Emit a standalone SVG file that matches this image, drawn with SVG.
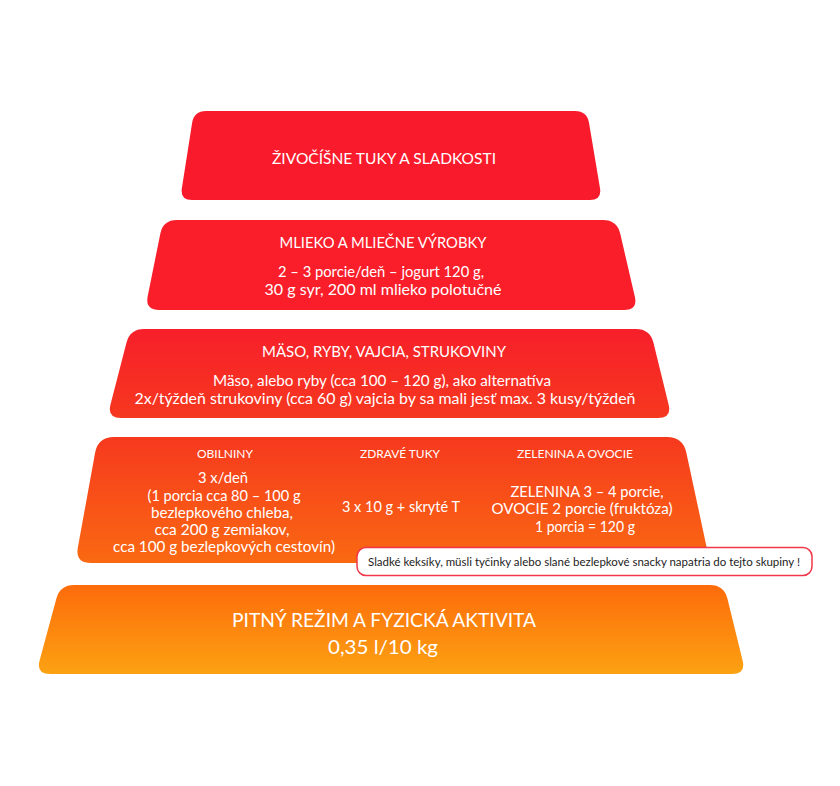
<svg xmlns="http://www.w3.org/2000/svg" width="840" height="786" viewBox="0 0 840 786">
<defs>
<linearGradient id="g3" x1="0" y1="0" x2="0" y2="1"><stop offset="0" stop-color="#f71f2a"/><stop offset="1" stop-color="#f6381f"/></linearGradient>
<linearGradient id="g4" x1="0" y1="0" x2="0" y2="1"><stop offset="0" stop-color="#f6391e"/><stop offset="1" stop-color="#fa6912"/></linearGradient>
<linearGradient id="g5" x1="0" y1="0" x2="0" y2="1"><stop offset="0" stop-color="#fd6b0b"/><stop offset="1" stop-color="#fca212"/></linearGradient>
<style>
text{font-family:"Lato","Open Sans",sans-serif;fill:#fff;text-anchor:middle}
.t{font-size:16px}
.b{font-size:15px}
.h{font-size:12px}
.n{font-size:11px;fill:#222}
.big{font-size:19px}
</style>
</defs>
<rect width="840" height="786" fill="#fff"/>
<g id="tier1">
<path d="M206,111 L575,111 Q587,111 589,122.8 L600,188.2 Q602,200 590,200 L192,200 Q180,200 181.9,188.1 L192.1,122.9 Q194,111 206,111 Z" fill="#f91b2c"/>
<text class="t" x="384" y="164" textLength="224" lengthAdjust="spacingAndGlyphs">ŽIVOČÍŠNE TUKY A SLADKOSTI</text>
</g>
<g id="tier2">
<path d="M177,220 L603,220 Q617,220 620.2,233.6 L634.8,296.4 Q638,310 624,310 L159,310 Q145,310 147.7,296.3 L160.3,233.7 Q163,220 177,220 Z" fill="#f91e2a"/>
<text class="b" x="383" y="248" textLength="207" lengthAdjust="spacingAndGlyphs">MLIEKO A MLIEČNE VÝROBKY</text>
<text class="b" x="381" y="277" textLength="206" lengthAdjust="spacingAndGlyphs">2 – 3 porcie/deň – jogurt 120 g,</text>
<text class="b" x="383" y="295" textLength="237" lengthAdjust="spacingAndGlyphs">30 g syr, 200 ml mlieko polotučné</text>
</g>
<g id="tier3">
<path d="M144,329 L636,329 Q650,329 653.4,342.6 L668.6,404.4 Q672,418 658,418 L121,418 Q107,418 110.5,404.4 L126.5,342.6 Q130,329 144,329 Z" fill="url(#g3)"/>
<text class="b" x="384" y="357" textLength="244" lengthAdjust="spacingAndGlyphs">MÄSO, RYBY, VAJCIA, STRUKOVINY</text>
<text class="b" x="382" y="386" textLength="338" lengthAdjust="spacingAndGlyphs">Mäso, alebo ryby (cca 100 – 120 g), ako alternatíva</text>
<text class="b" x="385" y="404" textLength="501" lengthAdjust="spacingAndGlyphs">2x/týždeň strukoviny (cca 60 g) vajcia by sa mali jesť max. 3 kusy/týždeň</text>
</g>
<g id="tier4">
<path d="M114,437 L667,437 Q683,437 686.3,452.6 L706.7,547.4 Q710,563 694,563 L91,563 Q75,563 77.9,547.3 L95.1,452.7 Q98,437 114,437 Z" fill="url(#g4)"/>
<text class="h" x="225" y="458" textLength="56" lengthAdjust="spacingAndGlyphs">OBILNINY</text>
<text class="h" x="400" y="458" textLength="80" lengthAdjust="spacingAndGlyphs">ZDRAVÉ TUKY</text>
<text class="h" x="575" y="458" textLength="116" lengthAdjust="spacingAndGlyphs">ZELENINA A OVOCIE</text>
<text class="b" x="223" y="483" textLength="50" lengthAdjust="spacingAndGlyphs">3 x/deň</text>
<text class="b" x="224" y="501" textLength="153" lengthAdjust="spacingAndGlyphs">(1 porcia cca 80 – 100 g</text>
<text class="b" x="222" y="518" textLength="142" lengthAdjust="spacingAndGlyphs">bezlepkového chleba,</text>
<text class="b" x="222" y="535" textLength="135" lengthAdjust="spacingAndGlyphs">cca 200 g zemiakov,</text>
<text class="b" x="224" y="552" textLength="222" lengthAdjust="spacingAndGlyphs">cca 100 g bezlepkových cestovín)</text>
<text class="b" x="401" y="512" textLength="118" lengthAdjust="spacingAndGlyphs">3 x 10 g + skryté T</text>
<text class="b" x="587" y="497" textLength="153" lengthAdjust="spacingAndGlyphs">ZELENINA 3 – 4 porcie,</text>
<text class="b" x="582" y="514" textLength="181" lengthAdjust="spacingAndGlyphs">OVOCIE 2 porcie  (fruktóza)</text>
<text class="b" x="585" y="532" textLength="100" lengthAdjust="spacingAndGlyphs">1 porcia = 120 g</text>
</g>
<g id="note">
<rect x="357" y="547.5" width="455" height="28" rx="9" fill="#fff" stroke="#f0384a" stroke-width="1.5"/>
<text class="n" x="584" y="566" textLength="432" lengthAdjust="spacingAndGlyphs">Sladké keksíky, müsli tyčinky alebo slané bezlepkové snacky napatria do tejto skupiny !</text>
</g>
<g id="tier5">
<path d="M74,585 L710,585 Q724,585 727.4,598.6 L742.6,660.4 Q746,674 732,674 L50,674 Q36,674 39.6,660.5 L56.4,598.5 Q60,585 74,585 Z" fill="url(#g5)"/>
<text class="big" x="384" y="627" textLength="304" lengthAdjust="spacingAndGlyphs">PITNÝ REŽIM A FYZICKÁ AKTIVITA</text>
<text class="big" x="383" y="654" textLength="110" lengthAdjust="spacingAndGlyphs">0,35 l/10 kg</text>
</g>
<g id="connectors"></g>
</svg>
